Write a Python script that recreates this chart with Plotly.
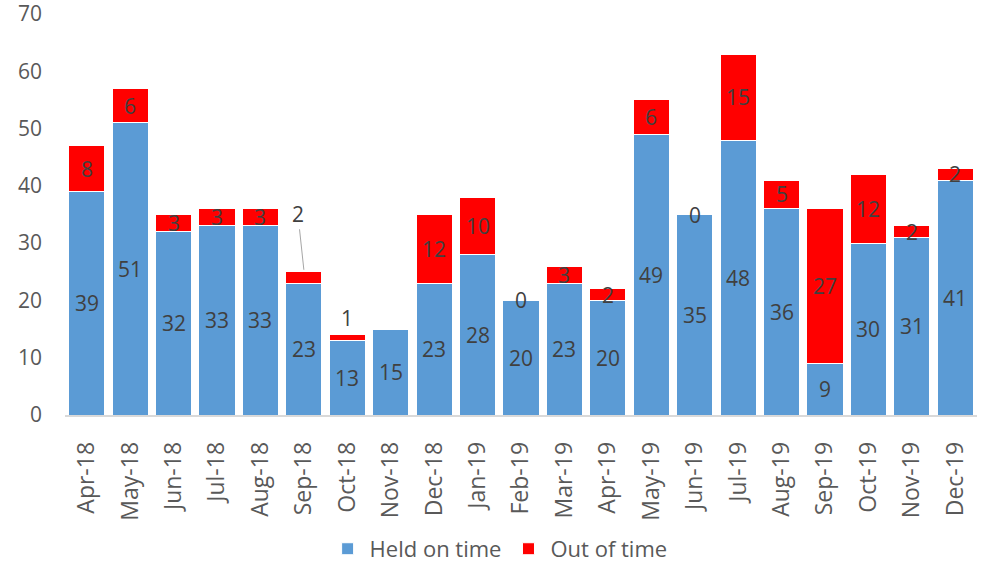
import plotly.graph_objects as go

months = ["Apr-18", "May-18", "Jun-18", "Jul-18", "Aug-18", "Sep-18", "Oct-18",
          "Nov-18", "Dec-18", "Jan-19", "Feb-19", "Mar-19", "Apr-19", "May-19",
          "Jun-19", "Jul-19", "Aug-19", "Sep-19", "Oct-19", "Nov-19", "Dec-19"]
held_on_time = [39, 51, 32, 33, 33, 23, 13, 15, 23, 28, 20, 23, 20, 49, 35, 48, 36, 9, 30, 31, 41]
out_of_time = [8, 6, 3, 3, 3, 2, 1, None, 12, 10, 0, 3, 2, 6, 0, 15, 5, 27, 12, 2, 2]

BLUE = "#5B9BD5"
RED = "#FF0000"
TXT = "#404040"
AXIS_TXT = "#595959"
FONT = "Open Sans"

fig = go.Figure()
fig.add_trace(go.Bar(x=months, y=held_on_time, name="Held on time",
                     marker=dict(color=BLUE, line=dict(color="white", width=1))))
fig.add_trace(go.Bar(x=months, y=out_of_time, name="Out of time",
                     marker=dict(color=RED, line=dict(color="white", width=1))))

annotations = []
for m, h, o in zip(months, held_on_time, out_of_time):
    annotations.append(dict(x=m, y=h / 2, text=str(h), showarrow=False,
                            font=dict(size=21, color=TXT, family=FONT)))
    if o is None:
        continue
    ann = dict(x=m, y=h + o / 2, text=str(o), showarrow=False,
               font=dict(size=21, color=TXT, family=FONT))
    if m == "Sep-18":
        # label pushed up with a leader line
        ann.update(y=h + o, yshift=2, showarrow=True, arrowhead=0, arrowwidth=1,
                   arrowcolor="#A6A6A6", ax=-6, ay=-56, standoff=0)
    elif m == "Oct-18":
        ann.update(y=h + o, yshift=17)
    annotations.append(ann)

fig.update_layout(
    barmode="stack",
    bargap=0.17,
    width=982, height=565,
    paper_bgcolor="white", plot_bgcolor="white",
    margin=dict(l=65, r=5, t=14, b=150, autoexpand=False),
    font=dict(family=FONT, size=22, color=AXIS_TXT),
    annotations=annotations,
    legend=dict(orientation="h", x=0.476, xanchor="center", y=-0.334, yanchor="middle",
                traceorder="normal", font=dict(size=22, color=AXIS_TXT),
                itemwidth=34),
    showlegend=True,
)
fig.update_xaxes(tickangle=-90, showline=True, linecolor="#D9D9D9", linewidth=1.5,
                 ticks="", showgrid=False, automargin=False, ticklabelstandoff=16,
                 tickfont=dict(size=23, color=AXIS_TXT))
fig.update_yaxes(range=[0, 70], dtick=10, showgrid=False, zeroline=False,
                 showline=False, ticks="", automargin=False, ticklabelstandoff=22,
                 ticklabeloverflow="allow", tickfont=dict(size=21, color=AXIS_TXT))

fig.write_html("out.html", config={"displayModeBar": False},
               post_script="document.body.style.margin='0';")
